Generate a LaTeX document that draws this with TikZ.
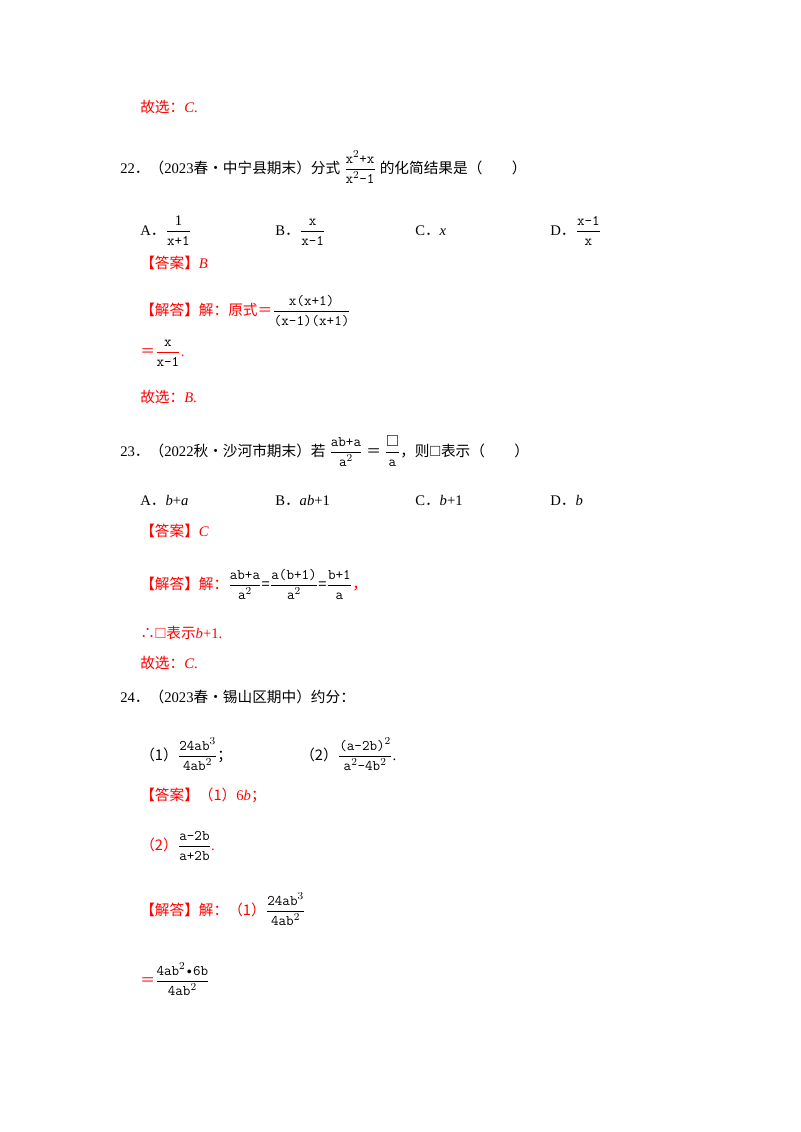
\documentclass[tikz,border=0pt]{standalone}
\usepackage{amsmath,amssymb}
\usepackage{fontspec}
\setmainfont{Liberation Serif}
\newfontfamily\cjk{Noto Sans CJK SC}
\newcommand{\fr}[2]{$\dfrac{\mbox{\ttfamily #1}}{\mbox{\ttfamily #2}}$}
\newcommand{\iv}[1]{{\rmfamily\itshape #1}}
\newcommand{\rv}[1]{{\rmfamily #1}}
\begin{document}
\begin{tikzpicture}[x=0.75pt,y=-0.75pt,
  t/.style={anchor=base west,inner sep=0pt,font=\fontsize{11}{13}\selectfont},
  r/.style={t,text=red}]
\useasboundingbox[fill=white] (0,0) rectangle (800,1132);
\node[r] (l1) at (140,112) {\cjk 故选：\iv{C}\rv{.}};
\node[t] (l2) at (120,173) {22{\cjk．（}2023{\cjk 春•中宁县期末）分式} \fr{x$^2$+x}{x$^2$-1} {\cjk 的化简结果是（\quad\quad）}};
\node[t] (a1) at (140,235) {A{\cjk．}\fr{\rmfamily 1}{x+1}};
\node[t] (b1) at (275,235) {B{\cjk．}\fr{x}{x-1}};
\node[t] (c1) at (415,235) {C{\cjk．}\textit{x}};
\node[t] (d1) at (550,235) {D{\cjk．}\fr{x-1}{x}};
\node[r] (ans1) at (140,268) {\cjk【答案】\iv{B}};
\node[r] (sol1) at (140,315) {\cjk【解答】解：原式＝\color{black}\fr{x(x+1)}{(x-1)(x+1)}};
\node[r] (eq1) at (140,356) {\cjk ＝\fr{\color{black}x}{\color{black}x-1}\rv{.}};
\node[r] (g1) at (140,402) {\cjk 故选：\iv{B}\rv{.}};
\node[t] (l3) at (120,456) {23{\cjk．（}2022{\cjk 秋•沙河市期末）若} \fr{ab+a}{a$^2$} {\cjk ＝} \fr{\rmfamily\large$\square$}{a}{\cjk ，则}$\square${\cjk 表示（\quad\quad）}};
\node[t] (a2) at (140,505) {A{\cjk．}\textit{b}+\textit{a}};
\node[t] (b2) at (275,505) {B{\cjk．}\textit{ab}+1};
\node[t] (c2) at (415,505) {C{\cjk．}\textit{b}+1};
\node[t] (d2) at (550,505) {D{\cjk．}\textit{b}};
\node[r] (ans2) at (140,536) {\cjk【答案】\iv{C}};
\node[r] (sol2) at (140,589) {\cjk【解答】解：\color{black}\fr{ab+a}{a$^2$}=\fr{a(b+1)}{a$^2$}=\fr{b+1}{a}\color{red}，};
\node[r] (th) at (140,638) {\cjk ∴\rv{$\square$}表示\iv{b}\rv{+1.}};
\node[r] (g2) at (140,668) {\cjk 故选：\iv{C}\rv{.}};
\node[t] (l4) at (120,702) {24{\cjk．（}2023{\cjk 春•锡山区期中）约分：}};
\node[t] (p1) at (140,760) {\cjk（1）\fr{24ab$^3$}{4ab$^2$}；};
\node[t] (p2) at (300,760) {\cjk（2）\fr{(a-2b)$^2$}{a$^2$-4b$^2$}\rv{.}};
\node[r] (ans3) at (140,800) {\cjk【答案】（1）\rv{6}\iv{b}；};
\node[r] (ans4) at (140,850) {\cjk（2）\color{black}\fr{a-2b}{a+2b}\color{red}\rv{.}};
\node[r] (sol3) at (140,915) {\cjk【解答】解：（1）\color{black}\fr{24ab$^3$}{4ab$^2$}};
\node[r] (eq3) at (140,985) {\cjk ＝\color{black}\fr{4ab$^2$•6b}{4ab$^2$}};
\end{tikzpicture}
\end{document}
